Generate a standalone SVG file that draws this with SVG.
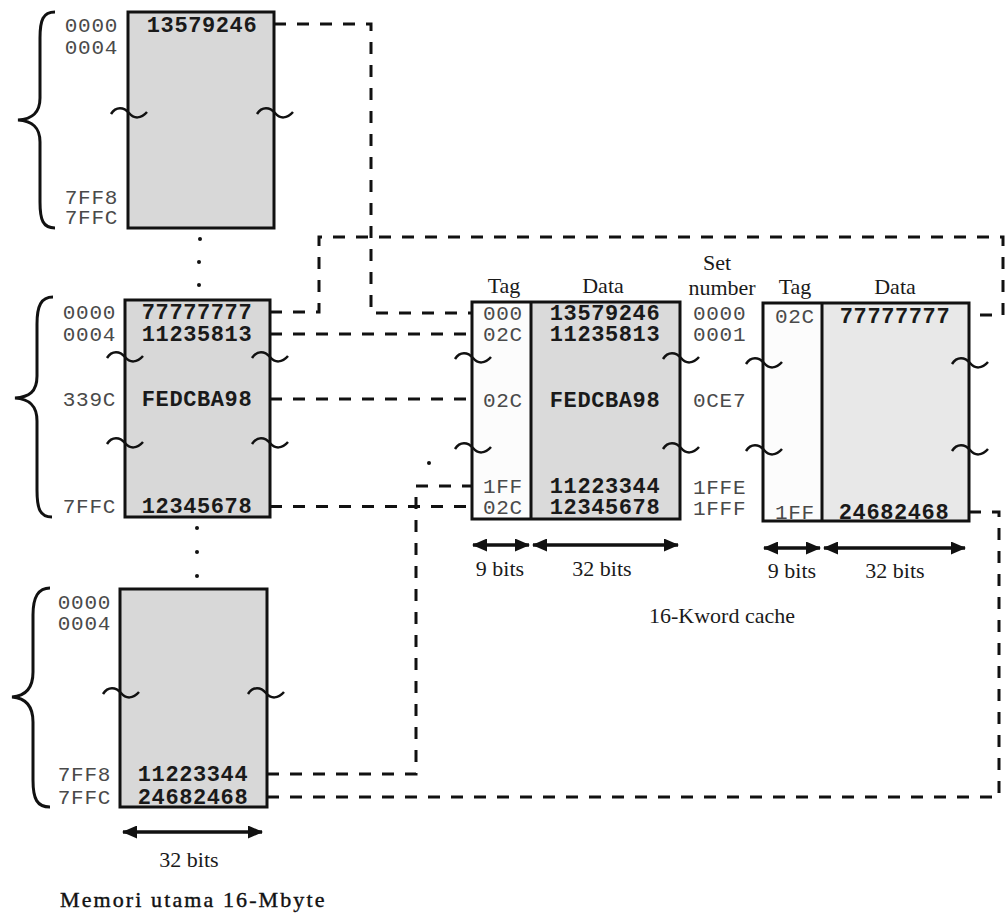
<svg xmlns="http://www.w3.org/2000/svg" xmlns:xlink="http://www.w3.org/1999/xlink" width="1006" height="914" viewBox="0 0 1006 914">
<style>
.box{stroke:#111;stroke-width:3;}
.mem{fill:#d8d8d8;}
.cdata{fill:#dadada;}
.cdata2{fill:#e8e8e8;}
.white{fill:#fcfcfc;}
.val{font-family:"Liberation Mono","Courier New",monospace;font-weight:bold;font-size:22px;letter-spacing:0.6px;fill:#1a1a1a;}
.adr{font-family:"Liberation Mono","Courier New",monospace;font-size:21px;letter-spacing:0.7px;fill:#4a4a4a;}
.lbl{font-family:"Liberation Serif","Times New Roman",serif;font-size:22px;fill:#1a1a1a;}
.dash{fill:none;stroke:#111;stroke-width:3;stroke-dasharray:12 11;}
.brace{fill:none;stroke:#111;stroke-width:3;}
.tl{fill:none;stroke:#111;stroke-width:2.5;}
.arr{stroke:#111;stroke-width:3.5;marker-start:url(#ah);marker-end:url(#ah);}
.dot{fill:#111;}
</style>
<defs>
<marker id="ah" markerUnits="userSpaceOnUse" markerWidth="15" markerHeight="13" viewBox="0 0 15 13" refX="14" refY="6.5" orient="auto-start-reverse">
<path d="M0,0 L15,6.5 L0,13 z" fill="#111"/>
</marker>
<path id="tilde" d="M-18,1 C-13,-7 -5,-6 0,0 S 12,6 18,-1"/>
</defs>
<rect width="1006" height="914" fill="#ffffff"/>

<g id="connectors">
<path class="dash" d="M274,24 H371 V313 H472"/>
<path class="dash" d="M270,312 H319 V237 H1003 V315 H969"/>
<path class="dash" d="M270,334 H472"/>
<path class="dash" d="M270,399 H472"/>
<path class="dash" d="M270,506.5 H472"/>
<path class="dash" d="M267,774 H416 V486 H472"/>
<path class="dash" d="M267,797 H999 V512 H969"/>
</g>

<g id="mem-block-1">
<rect class="box mem" x="128" y="12" width="146" height="216"/>
<path class="brace" d="M55,12 C43,12 40,20 40,38 L40,98 C40,113 32,119 18,120 C32,121 40,127 40,142 L40,202 C40,220 43,228 55,228"/>
<text class="adr" x="118" y="32" text-anchor="end">0000</text>
<text class="adr" x="118" y="54" text-anchor="end">0004</text>
<text class="adr" x="118" y="204" text-anchor="end">7FF8</text>
<text class="adr" x="118" y="224" text-anchor="end">7FFC</text>
<text class="val" x="202" y="32" text-anchor="middle">13579246</text>
<use xlink:href="#tilde" class="tl" x="129" y="113"/>
<use xlink:href="#tilde" class="tl" x="275" y="113"/>
</g>

<g id="ellipsis-1">
<circle class="dot" cx="200" cy="239" r="2"/>
<circle class="dot" cx="199" cy="262" r="2"/>
<circle class="dot" cx="199" cy="285" r="2"/>
</g>

<g id="mem-block-2">
<rect class="box mem" x="125" y="300" width="145" height="217"/>
<path class="brace" d="M53,297 C41,297 37,306 37,324 L37,376 C37,392 29,397 15,398 C29,399 37,405 37,421 L37,490 C37,509 40,517 52,517"/>
<text class="adr" x="116" y="319" text-anchor="end">0000</text>
<text class="adr" x="116" y="341" text-anchor="end">0004</text>
<text class="adr" x="116" y="406" text-anchor="end">339C</text>
<text class="adr" x="116" y="513" text-anchor="end">7FFC</text>
<text class="val" x="197" y="319" text-anchor="middle">77777777</text>
<text class="val" x="197" y="341" text-anchor="middle">11235813</text>
<text class="val" x="197" y="406" text-anchor="middle">FEDCBA98</text>
<text class="val" x="197" y="513" text-anchor="middle">12345678</text>
<use xlink:href="#tilde" class="tl" x="125" y="357"/>
<use xlink:href="#tilde" class="tl" x="270" y="357"/>
<use xlink:href="#tilde" class="tl" x="125" y="443"/>
<use xlink:href="#tilde" class="tl" x="270" y="443"/>
</g>

<g id="ellipsis-2">
<circle class="dot" cx="197" cy="528" r="2"/>
<circle class="dot" cx="197" cy="552" r="2"/>
<circle class="dot" cx="197" cy="576" r="2"/>
</g>

<g id="mem-block-3">
<rect class="box mem" x="120" y="589" width="147" height="218"/>
<path class="brace" d="M50,588 C38,588 33,597 33,615 L33,672 C33,689 25,696 12,697 C25,698 33,705 33,722 L33,780 C33,799 37,807 50,807"/>
<text class="adr" x="111" y="609" text-anchor="end">0000</text>
<text class="adr" x="111" y="630" text-anchor="end">0004</text>
<text class="adr" x="111" y="781" text-anchor="end">7FF8</text>
<text class="adr" x="111" y="804" text-anchor="end">7FFC</text>
<text class="val" x="193" y="781" text-anchor="middle">11223344</text>
<text class="val" x="193" y="804" text-anchor="middle">24682468</text>
<use xlink:href="#tilde" class="tl" x="121" y="693"/>
<use xlink:href="#tilde" class="tl" x="266" y="693"/>
<line class="arr" x1="123" y1="832" x2="262" y2="832"/>
<text class="lbl" x="189" y="867" text-anchor="middle">32 bits</text>
</g>

<g id="mem-caption">
<text class="lbl" x="60" y="907" style="letter-spacing:2.1px;fill:#111;stroke:#111;stroke-width:0.4px">Memori utama 16-Mbyte</text>
</g>

<g id="cache-way-1">
<rect class="white" x="472" y="302" width="59" height="217"/>
<rect class="cdata" x="531" y="302" width="149" height="217"/>
<rect class="box" x="472" y="302" width="208" height="217" fill="none"/>
<line class="box" x1="531" y1="302" x2="531" y2="519"/>
<text class="lbl" x="504" y="293" text-anchor="middle">Tag</text>
<text class="lbl" x="603" y="293" text-anchor="middle">Data</text>
<text class="adr" x="483" y="320">000</text>
<text class="adr" x="483" y="341">02C</text>
<text class="adr" x="483" y="407">02C</text>
<text class="adr" x="483" y="493">1FF</text>
<text class="adr" x="483" y="514">02C</text>
<text class="val" x="605" y="320" text-anchor="middle">13579246</text>
<text class="val" x="605" y="341" text-anchor="middle">11235813</text>
<text class="val" x="605" y="407" text-anchor="middle">FEDCBA98</text>
<text class="val" x="605" y="493" text-anchor="middle">11223344</text>
<text class="val" x="605" y="514" text-anchor="middle">12345678</text>
<use xlink:href="#tilde" class="tl" x="473" y="358"/>
<use xlink:href="#tilde" class="tl" x="681" y="358"/>
<use xlink:href="#tilde" class="tl" x="473" y="448"/>
<use xlink:href="#tilde" class="tl" x="681" y="448"/>
<line class="arr" x1="473" y1="545" x2="529" y2="545"/>
<line class="arr" x1="533" y1="545" x2="678" y2="545"/>
<text class="lbl" x="500" y="576" text-anchor="middle">9 bits</text>
<text class="lbl" x="602" y="576" text-anchor="middle">32 bits</text>
</g>

<g id="set-numbers">
<text class="lbl" x="717" y="270" text-anchor="middle">Set</text>
<text class="lbl" x="722" y="295" text-anchor="middle">number</text>
<text class="adr" x="693" y="320">0000</text>
<text class="adr" x="693" y="341">0001</text>
<text class="adr" x="693" y="407">0CE7</text>
<text class="adr" x="693" y="494">1FFE</text>
<text class="adr" x="693" y="515">1FFF</text>
</g>

<g id="cache-way-2">
<rect class="white" x="763" y="303" width="59" height="218"/>
<rect class="cdata2" x="822" y="303" width="147" height="218"/>
<rect class="box" x="763" y="303" width="206" height="218" fill="none"/>
<line class="box" x1="822" y1="303" x2="822" y2="521"/>
<text class="lbl" x="795" y="294" text-anchor="middle">Tag</text>
<text class="lbl" x="895" y="294" text-anchor="middle">Data</text>
<text class="adr" x="775" y="323">02C</text>
<text class="adr" x="775" y="519">1FF</text>
<text class="val" x="895" y="323" text-anchor="middle">77777777</text>
<text class="val" x="894" y="519" text-anchor="middle">24682468</text>
<use xlink:href="#tilde" class="tl" x="764" y="363"/>
<use xlink:href="#tilde" class="tl" x="970" y="363"/>
<use xlink:href="#tilde" class="tl" x="764" y="450"/>
<use xlink:href="#tilde" class="tl" x="970" y="450"/>
<line class="arr" x1="764" y1="548" x2="820" y2="548"/>
<line class="arr" x1="824" y1="548" x2="965" y2="548"/>
<text class="lbl" x="792" y="578" text-anchor="middle">9 bits</text>
<text class="lbl" x="895" y="578" text-anchor="middle">32 bits</text>
</g>

<g id="cache-caption">
<circle class="dot" cx="429" cy="463" r="2"/>
<text class="lbl" x="722" y="623" text-anchor="middle">16-Kword cache</text>
</g>
</svg>
